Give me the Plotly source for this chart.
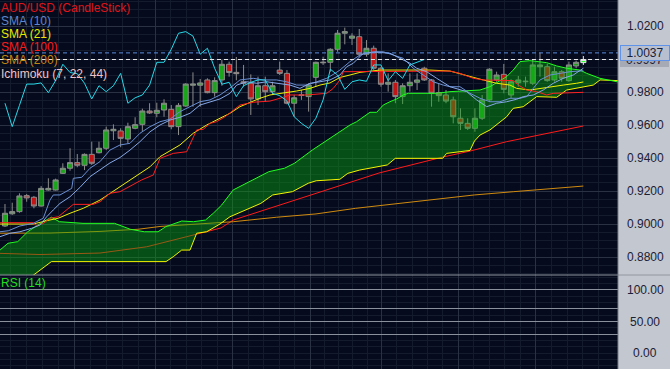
import plotly.graph_objects as go

# ---------------- data (AUD/USD daily candles, index = bar number) ----------------
opens = [0.8988, 0.9062, 0.9075, 0.9172, 0.9162, 0.9109, 0.9206, 0.9206, 0.9307, 0.9338,
         0.9372, 0.9356, 0.9422, 0.9432, 0.9459, 0.9565, 0.9564, 0.9515, 0.9580, 0.9604,
         0.9685, 0.9671, 0.9691, 0.9695, 0.9590, 0.9715, 0.9841, 0.9841, 0.9873, 0.9796,
         0.9873, 0.9968, 0.9919, 0.9862, 0.9853, 0.9758, 0.9838, 0.9802, 0.9933, 0.9913,
         0.9732, 0.9779, 0.9772, 0.9889, 0.9977, 0.9980, 1.0059, 1.0156, 1.0126, 1.0135,
         1.0029, 1.0065, 0.9944, 0.9847, 0.9859, 0.9772, 0.9838, 0.9859, 0.9944, 0.9873,
         0.9796, 0.9782, 0.9752, 0.9641, 0.9610, 0.9580, 0.9641, 0.9752, 0.9873, 0.9907,
         0.9782, 0.9856, 0.9862, 0.9853, 0.9953, 0.9953, 0.9873, 0.9923, 0.9869, 0.9958,
         0.9978]
highs = [0.9121, 0.9129, 0.9186, 0.9182, 0.9170, 0.9230, 0.9277, 0.9275, 0.9368, 0.9459,
         0.9424, 0.9428, 0.9499, 0.9499, 0.9590, 0.9604, 0.9580, 0.9614, 0.9647, 0.9699,
         0.9732, 0.9735, 0.9756, 0.9721, 0.9733, 0.9853, 0.9919, 0.9879, 0.9883, 0.9889,
         0.9994, 0.9984, 1.0012, 0.9964, 0.9907, 0.9893, 0.9893, 0.9862, 0.9984, 0.9933,
         0.9782, 0.9812, 0.9853, 0.9984, 1.0014, 1.0065, 1.0176, 1.0190, 1.0156, 1.0182,
         1.0115, 1.0081, 0.9953, 0.9913, 0.9873, 0.9853, 0.9913, 0.9913, 0.9953, 0.9879,
         0.9853, 0.9812, 0.9772, 0.9701, 0.9641, 0.9701, 0.9782, 0.9944, 0.9923, 0.9970,
         0.9877, 0.9897, 0.9893, 0.9994, 1.0038, 0.9970, 0.9953, 0.9933, 0.9984, 0.9990,
         1.0018]
lows = [0.8982, 0.9055, 0.9068, 0.9135, 0.9095, 0.9106, 0.9202, 0.9203, 0.9303, 0.9323,
        0.9344, 0.9327, 0.9358, 0.9428, 0.9448, 0.9509, 0.9465, 0.9489, 0.9574, 0.9559,
        0.9667, 0.9647, 0.9650, 0.9574, 0.9539, 0.9711, 0.9711, 0.9711, 0.9792, 0.9772,
        0.9838, 0.9893, 0.9871, 0.9832, 0.9661, 0.9721, 0.9741, 0.9782, 0.9903, 0.9725,
        0.9650, 0.9752, 0.9681, 0.9832, 0.9964, 0.9923, 1.0044, 1.0089, 1.0085, 1.0014,
        1.0014, 0.9933, 0.9832, 0.9802, 0.9732, 0.9727, 0.9802, 0.9812, 0.9867, 0.9711,
        0.9741, 0.9732, 0.9610, 0.9570, 0.9570, 0.9559, 0.9630, 0.9741, 0.9862, 0.9792,
        0.9762, 0.9832, 0.9832, 0.9842, 0.9893, 0.9862, 0.9862, 0.9862, 0.9862, 0.9944,
        0.9964]
closes = [0.9065, 0.9075, 0.9170, 0.9158, 0.9109, 0.9216, 0.9216, 0.9267, 0.9338, 0.9372,
          0.9356, 0.9422, 0.9368, 0.9459, 0.9570, 0.9574, 0.9519, 0.9590, 0.9602, 0.9685,
          0.9673, 0.9689, 0.9732, 0.9590, 0.9719, 0.9848, 0.9848, 0.9855, 0.9796, 0.9869,
          0.9968, 0.9918, 0.9911, 0.9853, 0.9758, 0.9838, 0.9802, 0.9838, 0.9913, 0.9732,
          0.9765, 0.9782, 0.9842, 0.9980, 0.9980, 1.0059, 1.0156, 1.0166, 1.0139, 1.0029,
          1.0065, 0.9944, 0.9847, 0.9859, 0.9772, 0.9838, 0.9859, 0.9873, 0.9873, 0.9792,
          0.9778, 0.9745, 0.9650, 0.9610, 0.9580, 0.9641, 0.9752, 0.9938, 0.9903, 0.9816,
          0.9862, 0.9873, 0.9865, 0.9964, 0.9964, 0.9869, 0.9923, 0.9883, 0.9964, 0.9980,
          0.9997]
bars = list(range(len(closes)))

# indicator readings (bar position, price)
sma10_x = [-0.69, 0.46, 2.07, 3.91, 5.30, 6.22, 6.68, 7.61, 9.23, 9.45, 10.61, 11.76, 13.14, 14.52,
           15.91, 17.29, 18.67, 20.06, 21.44, 22.82, 24.20, 25.59, 26.97, 28.35, 29.74, 31.12,
           32.50, 34.34, 35.73, 37.58, 38.96, 40.35, 41.73, 43.11, 44.50, 45.64, 46.33, 47.72,
           49.10, 50.94, 52.32, 53.71, 55.09, 56.47, 57.86, 59.24, 60.62, 61.55, 62.93, 64.32,
           65.70, 67.08, 68.46, 69.85, 71.23, 72.16, 73.07, 74.00, 75.38, 76.76, 78.15, 80.0]
sma10_y = [0.8953, 0.8959, 0.8988, 0.9004, 0.9035, 0.9145, 0.9176, 0.9176, 0.9216, 0.9277, 0.9283,
           0.9338, 0.9378, 0.9448, 0.9479, 0.9489, 0.9550, 0.9590, 0.9620, 0.9635, 0.9681, 0.9711,
           0.9741, 0.9752, 0.9782, 0.9824, 0.9873, 0.9883, 0.9873, 0.9873, 0.9862, 0.9842, 0.9842,
           0.9862, 0.9883, 0.9913, 0.9933, 0.9984, 1.0024, 1.0044, 1.0044, 1.0024, 1.0004, 0.9944,
           0.9903, 0.9862, 0.9842, 0.9832, 0.9832, 0.9792, 0.9762, 0.9741, 0.9741, 0.9762, 0.9762,
           0.9772, 0.9822, 0.9873, 0.9903, 0.9913, 0.9923, 0.9929]
tenkan_x = [-0.69, 0.69, 2.07, 3.69, 4.84, 5.77, 6.68, 7.61, 8.99, 10.37, 11.76, 13.14, 14.52, 15.91,
            17.29, 18.67, 20.06, 21.44, 22.82, 24.20, 25.59, 26.97, 28.35, 29.74, 31.12, 32.05,
            33.43, 34.81, 36.20, 38.04, 39.42, 40.80, 42.19, 43.57, 44.95, 46.33, 47.26, 48.17,
            49.56, 51.41, 53.25, 54.63, 56.02, 56.94, 58.33, 59.71, 61.55, 63.86, 65.24, 66.63,
            68.01, 69.39, 70.77, 71.69, 73.07, 74.45, 75.84, 77.22, 78.60, 80.0]
tenkan_y = [0.8923, 0.8944, 0.8953, 0.8974, 0.8994, 0.9044, 0.9085, 0.9125, 0.9165, 0.9222, 0.9287,
            0.9327, 0.9370, 0.9403, 0.9448, 0.9499, 0.9559, 0.9600, 0.9630, 0.9647, 0.9671, 0.9721,
            0.9741, 0.9758, 0.9792, 0.9842, 0.9862, 0.9853, 0.9862, 0.9853, 0.9842, 0.9822, 0.9853,
            0.9862, 0.9873, 0.9903, 0.9953, 0.9974, 1.0035, 1.0041, 1.0035, 1.0004, 0.9974, 0.9944,
            0.9923, 0.9883, 0.9832, 0.9802, 0.9752, 0.9711, 0.9732, 0.9741, 0.9756, 0.9772, 0.9782,
            0.9812, 0.9853, 0.9883, 0.9903, 0.9944]
sma21_x = [-0.69, 3.91, 5.77, 7.37, 8.99, 10.83, 13.14, 14.52, 15.91, 17.29, 20.06, 21.44, 24.20,
           26.04, 27.90, 29.74, 31.12, 32.50, 33.89, 35.27, 36.65, 38.49, 40.35, 42.19, 43.57,
           44.95, 46.33, 47.72, 49.10, 51.87, 58.78, 61.55, 63.39, 64.77, 66.16, 68.01, 69.85,
           70.77, 72.61, 74.00, 75.84, 77.22, 79.07, 80.0]
sma21_y = [0.9000, 0.9000, 0.9020, 0.9035, 0.9065, 0.9095, 0.9145, 0.9186, 0.9222, 0.9267, 0.9347,
           0.9408, 0.9479, 0.9550, 0.9600, 0.9641, 0.9671, 0.9711, 0.9738, 0.9762, 0.9782, 0.9792,
           0.9806, 0.9822, 0.9842, 0.9855, 0.9888, 0.9903, 0.9919, 0.9933, 0.9933, 0.9927, 0.9903,
           0.9889, 0.9873, 0.9853, 0.9842, 0.9822, 0.9812, 0.9822, 0.9832, 0.9842, 0.9853, 0.9861]
kijun_x = [-0.69, 3.91, 4.38, 5.30, 6.22, 7.37, 9.45, 12.21, 13.14, 14.52, 15.91, 18.91, 20.51,
           21.44, 23.28, 25.13, 26.51, 27.43, 28.35, 29.28, 30.43, 31.12, 32.50, 34.34, 36.65,
           38.04, 39.42, 41.73, 44.50, 45.41, 46.33, 46.79, 61.55, 62.93, 64.77, 66.16, 70.30,
           71.00, 72.16, 73.54, 74.92, 75.84, 77.69, 80.0]
kijun_y = [0.9008, 0.9008, 0.8988, 0.9004, 0.9035, 0.9044, 0.9119, 0.9119, 0.9135, 0.9186, 0.9196,
           0.9267, 0.9297, 0.9398, 0.9428, 0.9438, 0.9570, 0.9574, 0.9610, 0.9620, 0.9650, 0.9673,
           0.9721, 0.9738, 0.9745, 0.9762, 0.9782, 0.9782, 0.9792, 0.9822, 0.9873, 0.9923, 0.9927,
           0.9913, 0.9883, 0.9873, 0.9869, 0.9842, 0.9812, 0.9802, 0.9782, 0.9792, 0.9796, 0.9798]
sma100_x = [-0.69, 4.84, 13.14, 19.60, 25.13, 26.97, 29.88, 31.58, 41.36, 51.73, 60.58, 64.32,
            69.39, 74.00, 78.60, 80.0]
sma100_y = [0.8822, 0.8815, 0.8824, 0.8862, 0.8923, 0.8945, 0.8976, 0.9024, 0.9164, 0.9309, 0.9406,
            0.9442, 0.9499, 0.9539, 0.9580, 0.9594]
sma200_x = [-0.69, 6.22, 13.14, 18.40, 21.44, 26.97, 31.58, 37.58, 43.02, 48.50, 53.98, 59.45,
            64.91, 70.38, 75.84, 80.0]
sma200_y = [0.8944, 0.8945, 0.8955, 0.8968, 0.8985, 0.9000, 0.9014, 0.9041, 0.9061, 0.9095, 0.9121,
            0.9150, 0.9176, 0.9196, 0.9216, 0.9230]
spanA_x = [-0.69, 0.40, 1.77, 3.14, 5.05, 6.42, 7.51, 10.79, 15.16, 17.34, 19.27, 21.16, 22.27,
           24.45, 26.10, 27.73, 28.81, 29.97, 31.56, 36.49, 38.67, 40.04, 42.50, 44.67, 46.10,
           46.79, 47.72, 48.64, 49.56, 50.48, 51.41, 52.32, 53.25, 54.18, 55.09, 55.78, 59.71,
           61.55, 65.70, 67.08, 69.39, 70.30, 71.23, 72.61, 74.92, 76.31, 77.69, 79.53, 80.46,
           81.37, 82.30, 84.79]
spanA_y = [0.8842, 0.8883, 0.8893, 0.8953, 0.9008, 0.9041, 0.9014, 0.9004, 0.9004, 0.8968, 0.8953,
           0.8953, 0.8984, 0.9018, 0.9014, 0.9024, 0.9065, 0.9115, 0.9206, 0.9317, 0.9338, 0.9368,
           0.9448, 0.9509, 0.9550, 0.9570, 0.9600, 0.9620, 0.9650, 0.9677, 0.9677, 0.9721, 0.9741,
           0.9758, 0.9782, 0.9792, 0.9792, 0.9802, 0.9812, 0.9832, 0.9893, 0.9933, 0.9984, 0.9990,
           0.9978, 0.9958, 0.9944, 0.9933, 0.9913, 0.9897, 0.9883, 0.9861]
spanB_x = [-0.69, 3.96, 6.42, 22.27, 23.28, 24.44, 25.59, 26.51, 27.90, 29.74, 31.12, 35.39, 37.03,
           39.76, 41.95, 43.04, 46.32, 47.41, 49.06, 51.78, 52.89, 53.98, 60.54, 61.08, 64.32,
           64.94, 65.70, 67.08, 69.39, 70.30, 71.69, 73.54, 76.31, 77.69, 80.46, 81.37, 82.30, 84.79]
spanB_y = [0.8570, 0.8691, 0.8772, 0.8772, 0.8802, 0.8842, 0.8842, 0.8944, 0.8953, 0.9000, 0.9044,
           0.9125, 0.9176, 0.9196, 0.9247, 0.9262, 0.9271, 0.9307, 0.9327, 0.9347, 0.9358, 0.9398,
           0.9398, 0.9428, 0.9446, 0.9503, 0.9539, 0.9570, 0.9650, 0.9701, 0.9711, 0.9772, 0.9768,
           0.9812, 0.9832, 0.9842, 0.9873, 0.9869]
chikou_shift = 22
ask_price = 1.0037

price_ticks = [1.02, 0.98, 0.96, 0.94, 0.92, 0.90, 0.88]
rsi_ticks = [100, 50, 0]
rsi_levels = [100, 70, 50, 30]
grid_major_x = [9.67, 20.75, 31.47, 42.24, 52.05, 62.70, 73.44]

legend_items = [("AUD/USD (CandleStick)", "#e0141a"), ("SMA (10)", "#5f86c8"),
                ("SMA (21)", "#e8e800"), ("SMA (100)", "#ff1a1a"),
                ("SMA (200)", "#c48410"), ("Ichimoku (7, 22, 44)", "#f0c4c4")]

# ---------------- figure ----------------
W, H = 670, 369
XR = [-0.69, 84.79]
YR = [0.86909, 1.03576]
XDOM = 618 / W
SPLIT = 1 - 275 / H
FONT = "Liberation Sans, Arial, sans-serif"

fig = go.Figure()

fig.add_trace(go.Candlestick(
    x=bars[:-1], open=opens[:-1], high=highs[:-1], low=lows[:-1], close=closes[:-1],
    increasing=dict(line=dict(color="#8c8c8c", width=1), fillcolor="#1aa51a"),
    decreasing=dict(line=dict(color="#8c8c8c", width=1), fillcolor="#c21515"),
    whiskerwidth=0, showlegend=False, xaxis="x", yaxis="y"))
fig.add_trace(go.Candlestick(
    x=bars[-1:], open=opens[-1:], high=highs[-1:], low=lows[-1:], close=closes[-1:],
    increasing=dict(line=dict(color="#e6e6e6", width=1), fillcolor="#33ff33"),
    decreasing=dict(line=dict(color="#e6e6e6", width=1), fillcolor="#ff3333"),
    whiskerwidth=0, showlegend=False, xaxis="x", yaxis="y"))

def line(x, y, color, **kw):
    fig.add_trace(go.Scatter(x=x, y=y, mode="lines", line=dict(color=color, width=1),
                             showlegend=False, hoverinfo="skip", xaxis="x", yaxis="y", **kw))

line(sma100_x, sma100_y, "#ff1a1a")
line(sma200_x, sma200_y, "#d08a10")
line(spanB_x, spanB_y, "#f5f500")
line(spanA_x, spanA_y, "#22ff22", fill="tonexty", fillcolor="rgba(10,175,15,0.42)")
line(sma21_x, sma21_y, "#f0f000")
line(kijun_x, kijun_y, "#ff2020")
line(sma10_x, sma10_y, "#6a8fd4")
line(tenkan_x, tenkan_y, "#86a8e8")
chik_x = bars[:len(bars) - chikou_shift]
chik_y = closes[chikou_shift:]
line(chik_x, chik_y, "#26d9ea")

# empty RSI panel trace to create the subplot
fig.add_trace(go.Scatter(x=[], y=[], xaxis="x2", yaxis="y2", showlegend=False))

grid_major = "#2a3142"
grid_minor = "#141b2c"
minor_x = []
for a, b in zip([grid_major_x[0] - (grid_major_x[1] - grid_major_x[0])] + grid_major_x,
                grid_major_x + [grid_major_x[-1] + (grid_major_x[-1] - grid_major_x[-2])]):
    for k in range(1, 5):
        minor_x.append(a + (b - a) * k / 5)

xcommon = dict(domain=[0, XDOM], range=XR, showticklabels=False, zeroline=False, showline=False,
               tickmode="array", tickvals=grid_major_x, showgrid=True, gridcolor=grid_major,
               gridwidth=1, ticks="",
               minor=dict(tickmode="array", tickvals=minor_x, showgrid=True, gridcolor=grid_minor,
                          ticks=""),
               rangeslider=dict(visible=False), fixedrange=True)

fig.update_layout(
    width=W, height=H, margin=dict(l=0, r=0, t=0, b=0, pad=0, autoexpand=False),
    paper_bgcolor="#c3c7cf", plot_bgcolor="#050b1c",
    boxmode="overlay", boxgap=0.3, boxgroupgap=0,
    showlegend=False,
    xaxis=dict(anchor="y", **xcommon),
    xaxis2=dict(anchor="y2", matches="x", **xcommon),
    yaxis=dict(domain=[SPLIT, 1], range=YR, showticklabels=False, zeroline=False,
               tick0=0.88, dtick=0.02, showgrid=True, gridcolor=grid_major, ticks="",
               minor=dict(dtick=0.005, tick0=0.88, showgrid=True, gridcolor=grid_minor, ticks=""),
               fixedrange=True),
    yaxis2=dict(domain=[0, SPLIT], range=[-25.4, 123.8], showticklabels=False, zeroline=False,
                tickmode="array", tickvals=rsi_levels, showgrid=True, gridcolor="#8a909c",
                ticks="",
                minor=dict(tickmode="linear", tick0=0, dtick=10, showgrid=True,
                           gridcolor=grid_minor, ticks=""),
                fixedrange=True),
)

shapes = [
    dict(type="line", xref="paper", yref="y", x0=0, x1=XDOM, y0=ask_price, y1=ask_price,
         line=dict(color="#5d8fe0", width=1, dash="4px,3px")),
    dict(type="line", xref="paper", yref="y", x0=0, x1=XDOM, y0=closes[-1], y1=closes[-1],
         line=dict(color="#e8e8e8", width=1, dash="4px,3px")),
    dict(type="line", xref="paper", yref="paper", x0=0, x1=1, y0=SPLIT, y1=SPLIT,
         line=dict(color="#9096a0", width=1)),
    dict(type="line", xref="paper", yref="paper", x0=XDOM, x1=XDOM, y0=0, y1=1,
         line=dict(color="#7a808c", width=1)),
]
fig.update_layout(shapes=shapes)

ann = []
LABX = 645 / W
for v in price_ticks:
    ann.append(dict(x=LABX, xref="paper", y=v, yref="y", text=f"{v:.4f}", showarrow=False,
                    xanchor="center", yanchor="middle",
                    font=dict(family=FONT, size=12, color="#1a2036")))
for v in rsi_ticks:
    ann.append(dict(x=LABX, xref="paper", y=v, yref="y2", text=f"{v:.2f}", showarrow=False,
                    xanchor="center", yanchor="middle",
                    font=dict(family=FONT, size=12, color="#1a2036")))
ann.append(dict(x=619.5 / W, xref="paper", y=closes[-1], yref="y", text=f"{closes[-1]:.4f}",
                showarrow=False, xanchor="left", yanchor="middle", width=49, height=14,
                bgcolor="#a6aab5", borderwidth=0, borderpad=0,
                font=dict(family=FONT, size=12, color="#1a2036")))
ann.append(dict(x=619.5 / W, xref="paper", y=ask_price, yref="y", text=f"{ask_price:.4f}",
                showarrow=False, xanchor="left", yanchor="middle", width=48, height=14,
                bgcolor="#b8c0d0", bordercolor="#5f93ea", borderwidth=1, borderpad=0,
                font=dict(family=FONT, size=12, color="#1a2036")))
for k, (txt, col) in enumerate(legend_items):
    ann.append(dict(x=0, xref="paper", y=1 - (8 + 13.1 * k) / H, yref="paper", text=txt,
                    showarrow=False, xanchor="left", yanchor="middle", xshift=-1,
                    font=dict(family=FONT, size=12, color=col)))
ann.append(dict(x=0, xref="paper", y=1 - 283 / H, yref="paper", text="RSI (14)",
                showarrow=False, xanchor="left", yanchor="middle", xshift=-1,
                font=dict(family=FONT, size=12, color="#22dd22")))
fig.update_layout(annotations=ann)

fig.write_html("out.html", config={"displayModeBar": False, "staticPlot": True},
               post_script="document.body.style.margin='0';document.body.style.padding='0';"
                           "document.body.style.overflow='hidden';")
